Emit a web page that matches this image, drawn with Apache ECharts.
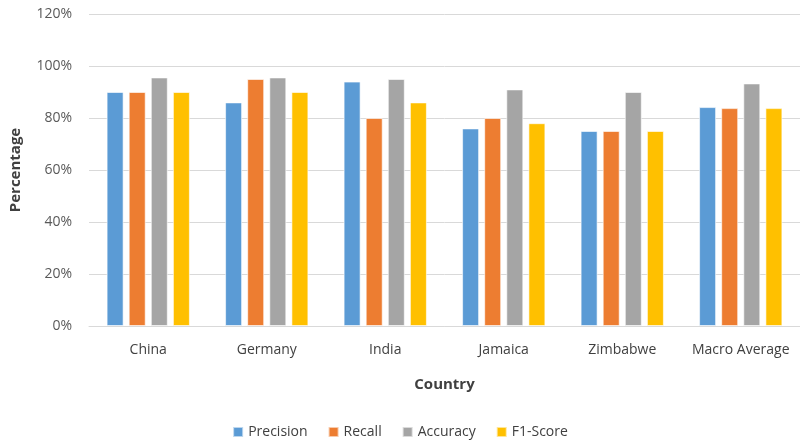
<!DOCTYPE html>
<html>
<head>
<meta charset="utf-8">
<script src="https://cdn.jsdelivr.net/npm/echarts@6/dist/echarts.min.js"></script>
<style>
  html, body { margin: 0; padding: 0; background: #fff; }
  #chart { width: 800px; height: 443px; }
</style>
</head>
<body>
<div id="chart"></div>
<script>
var countries = ["China", "Germany", "India", "Jamaica", "Zimbabwe", "Macro Average"];
var precision = [90, 86, 94, 76, 75, 84.2];
var recall = [90, 95, 80, 80, 75, 83.8];
var accuracy = [95.6, 95.6, 95, 91, 90, 93.3];
var f1Score = [90, 90, 86, 78, 75, 83.8];
var yTicks = [0, 20, 40, 60, 80, 100, 120];

var colors = ["#5B9BD5", "#ED7D31", "#A5A5A5", "#FFC000"];
var fontFam = "'Open Sans', 'Liberation Sans', sans-serif";

var chart = echarts.init(document.getElementById("chart"));

function barSeries(name, data) {
    return {
        name: name,
        type: "bar",
        data: data,
        barWidth: 17,
        barGap: "30%",
        itemStyle: { borderColor: "rgba(255,255,255,0.6)", borderWidth: 1 }
    };
}

var option = {
    color: colors,
    animation: false,
    textStyle: { fontFamily: fontFam },
    grid: { left: 84, right: 0, top: 14, bottom: 117 },
    legend: {
        bottom: -1,
        left: "center",
        itemWidth: 10,
        itemHeight: 10,
        itemGap: 20,
        icon: "rect",
        textStyle: { color: "#404040", fontSize: 14, fontFamily: fontFam }
    },
    xAxis: {
        type: "category",
        data: countries,
        name: "Country",
        nameLocation: "middle",
        nameGap: 51,
        nameTextStyle: { fontWeight: "bold", fontSize: 15, color: "#404040" },
        axisLine: { lineStyle: { color: "#D9D9D9" } },
        axisTick: { show: false },
        axisLabel: { interval: 0, color: "#404040", fontSize: 14, margin: 17 }
    },
    yAxis: {
        type: "value",
        min: yTicks[0],
        max: yTicks[yTicks.length - 1],
        interval: 20,
        name: "Percentage",
        nameLocation: "middle",
        nameGap: 66,
        nameTextStyle: { fontWeight: "bold", fontSize: 15, color: "#404040" },
        axisLine: { show: false },
        axisTick: { show: false },
        splitLine: { lineStyle: { color: "#D9D9D9" } },
        axisLabel: { formatter: "{value}%", color: "#595959", fontSize: 14, margin: 17 }
    },
    series: [
        barSeries("Precision", precision),
        barSeries("Recall", recall),
        barSeries("Accuracy", accuracy),
        barSeries("F1-Score", f1Score)
    ]
};

chart.setOption(option);
</script>
</body>
</html>
